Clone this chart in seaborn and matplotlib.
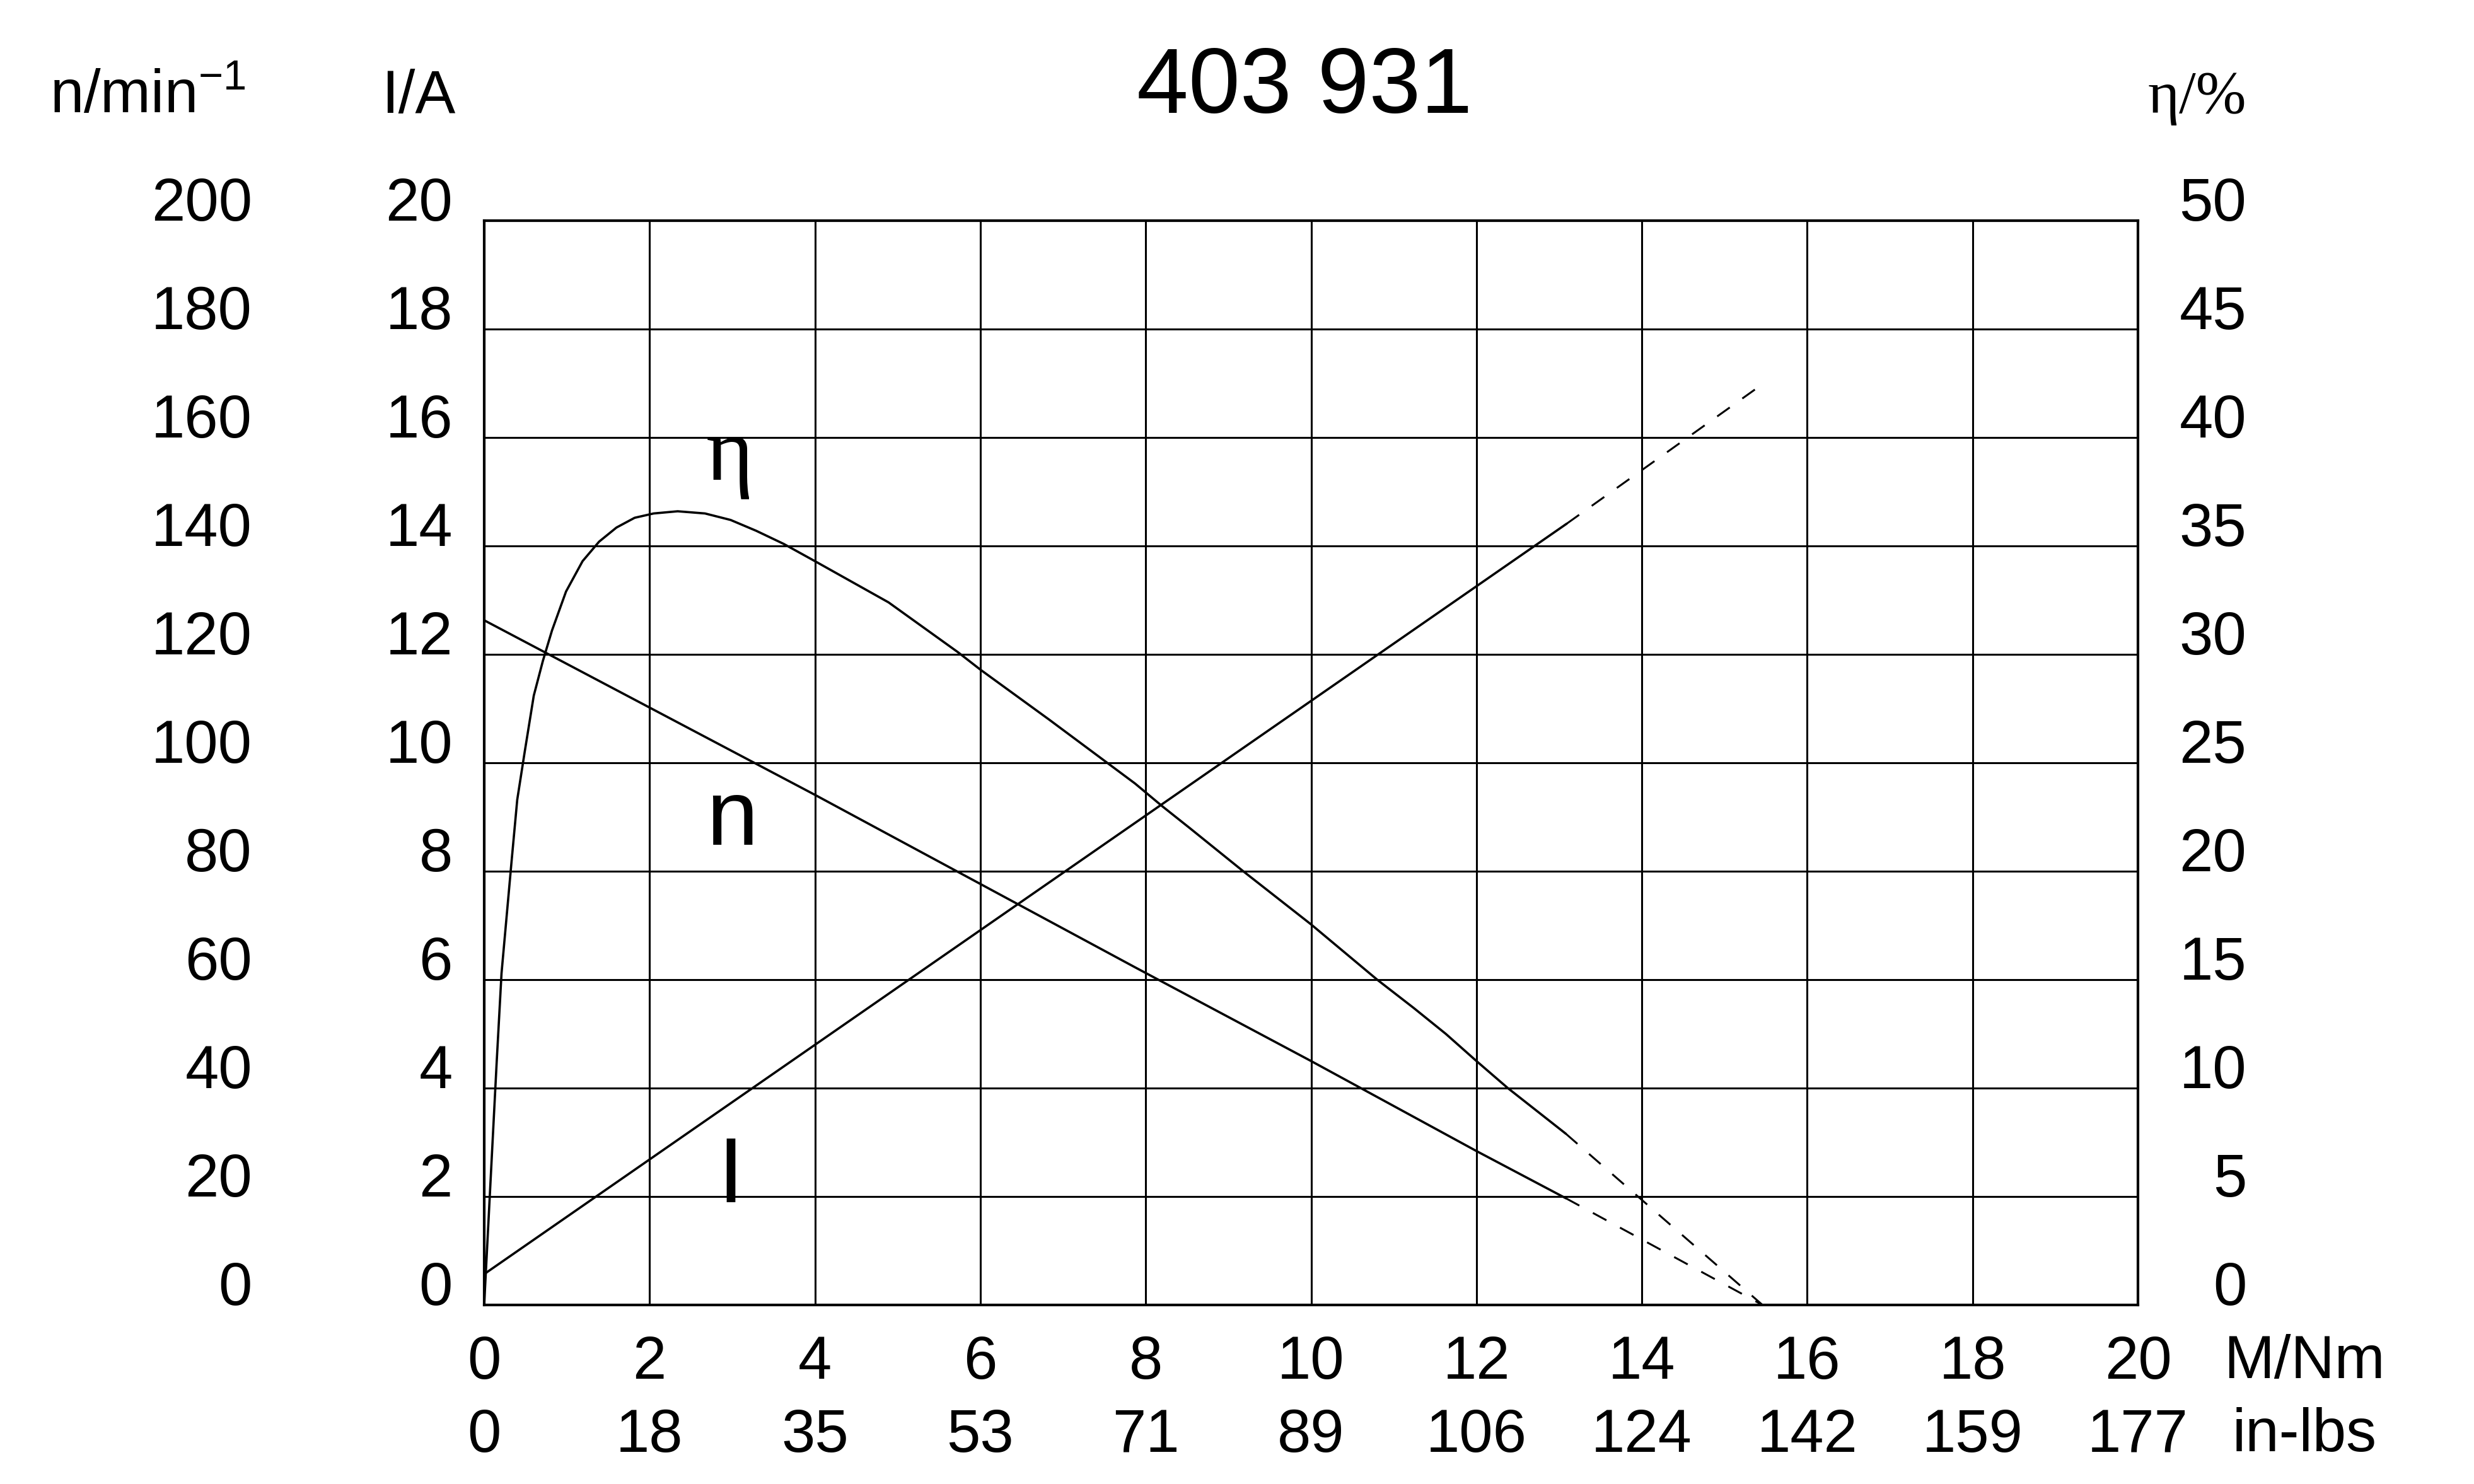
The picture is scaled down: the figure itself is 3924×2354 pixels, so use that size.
import matplotlib
matplotlib.use("Agg")
import matplotlib.pyplot as plt
import seaborn as sns

# Achsen / Skalen
torque_ticks = [0, 2, 4, 6, 8, 10, 12, 14, 16, 18, 20]
inlbs_labels = ["0", "18", "35", "53", "71", "89", "106", "124", "142", "159", "177"]
current_ticks = [0, 2, 4, 6, 8, 10, 12, 14, 16, 18, 20]
speed_ticks = [0, 20, 40, 60, 80, 100, 120, 140, 160, 180, 200]
eff_ticks = [0, 5, 10, 15, 20, 25, 30, 35, 40, 45, 50]

# Strom I (A)
i_m = [0.0, 13.09]
i_amp = [0.57, 14.41]
i_ext_m = [13.09, 15.50]
i_ext_amp = [14.41, 17.03]

# Drehzahl n (1/min)
n_m = [0.0, 4.0, 7.87, 10.0, 12.0, 13.08]
n_rpm = [126.3, 94.1, 62.3, 45.0, 28.4, 19.7]
n_ext_m = [13.08, 15.46]
n_ext_rpm = [19.7, 0.0]

# Wirkungsgrad eta (%)
eta_m = [0.0, 0.15, 0.21, 0.33, 0.40, 0.49, 0.60, 0.71, 0.82, 0.99, 1.19, 1.39,
         1.60, 1.82, 2.05, 2.34, 2.67, 2.98, 3.29, 3.62, 4.0, 4.89, 5.73, 6.0,
         6.83, 7.87, 8.20, 8.53, 9.18, 10.0, 10.80, 11.24, 11.63, 12.0, 12.38,
         13.08]
eta_pct = [0.0, 11.1, 15.3, 20.4, 23.3, 25.5, 28.1, 29.7, 31.1, 32.9, 34.3, 35.2,
           35.85, 36.3, 36.5, 36.6, 36.5, 36.2, 35.7, 35.1, 34.3, 32.4, 30.1, 29.3,
           27.0, 24.05, 23.0, 22.0, 20.0, 17.55, 15.0, 13.7, 12.5, 11.25, 10.0,
           7.9]
eta_ext_m = [13.08, 15.46]
eta_ext_pct = [7.9, 0.0]

sns.set_style("white")
plt.rcParams["font.family"] = ["Liberation Sans", "DejaVu Sans"]
plt.rcParams["mathtext.fontset"] = "custom"
plt.rcParams["mathtext.rm"] = "Liberation Sans"
plt.rcParams["mathtext.it"] = "Liberation Sans:italic"
plt.rcParams["text.color"] = "black"
plt.rcParams["xtick.color"] = "black"
plt.rcParams["ytick.color"] = "black"

FS = 34.5
LW = 1.3
DASH = (0, (8, 8))

fig = plt.figure(figsize=(19.62, 11.77), dpi=200)
ax = fig.add_axes([0.1957, 0.1206, 0.6685, 0.7307])

# Stromkennlinie (Hauptachse = I)
sns.lineplot(x=i_m, y=i_amp, ax=ax, color="black", linewidth=LW)
sns.lineplot(x=i_ext_m, y=i_ext_amp, ax=ax, color="black", linewidth=1.1, linestyle=DASH)

ax.set_xlim(0, 20)
ax.set_ylim(0, 20)
ax.set_xticks(torque_ticks, labels=[str(t) for t in torque_ticks], fontsize=FS)
ax.set_yticks(current_ticks, labels=[str(t) for t in current_ticks], fontsize=FS, va="baseline")
ax.tick_params(axis="x", length=0, pad=17)
ax.tick_params(axis="y", length=0, pad=18)
ax.grid(True, color="black", linewidth=1.1)
ax.set_axisbelow(True)
for s in ax.spines.values():
    s.set_visible(True)
    s.set_color("black")
    s.set_linewidth(1.5)
ax.set_xlabel("")
ax.set_ylabel("")

# Drehzahl (linke, aeussere Skala)
ax_n = ax.twinx()
sns.lineplot(x=n_m, y=n_rpm, ax=ax_n, color="black", linewidth=LW)
sns.lineplot(x=n_ext_m, y=n_ext_rpm, ax=ax_n, color="black", linewidth=1.1, linestyle=DASH)
ax_n.set_ylim(0, 200)
ax_n.yaxis.tick_left()
ax_n.spines["left"].set_position(("axes", -0.1403))
for s in ax_n.spines.values():
    s.set_visible(False)
ax_n.set_yticks(speed_ticks, labels=[str(t) for t in speed_ticks], fontsize=FS, va="baseline")
ax_n.tick_params(axis="y", length=0, pad=0)
ax_n.set_ylabel("")

# Wirkungsgrad (rechte Skala)
ax_e = ax.twinx()
sns.lineplot(x=eta_m, y=eta_pct, ax=ax_e, color="black", linewidth=LW)
sns.lineplot(x=eta_ext_m, y=eta_ext_pct, ax=ax_e, color="black", linewidth=1.1, linestyle=DASH)
ax_e.set_ylim(0, 50)
for s in ax_e.spines.values():
    s.set_visible(False)
ax_e.set_yticks(eff_ticks, labels=[str(t) for t in eff_ticks], fontsize=FS,
                ha="right", va="baseline")
ax_e.tick_params(axis="y", length=0, pad=62)
ax_e.set_ylabel("")
ax_e.set_xlim(0, 20)

# zweite x-Skala in-lbs
ax_in = ax.secondary_xaxis("bottom")
ax_in.set_xticks(torque_ticks, labels=inlbs_labels, fontsize=FS)
ax_in.tick_params(axis="x", length=0, pad=58.7)
ax_in.spines["bottom"].set_visible(False)

# Beschriftungen
tr = ax.transAxes
ax.text(0.496, 1.0994, "403 931", transform=tr, ha="center", va="baseline", fontsize=53)
ax.text(-0.1441, 1.0994, "n/min$^{-1}$", transform=tr, ha="right", va="baseline", fontsize=FS)
ax.text(-0.0175, 1.0994, "I/A", transform=tr, ha="right", va="baseline", fontsize=FS)
ax.text(1.0656, 1.0994, "η/%", transform=tr, ha="right", va="baseline", fontsize=FS,
        family=["Liberation Serif", "DejaVu Serif"])
ax.text(1.1006, -0.0674, "M/Nm", transform=tr, ha="center", va="baseline", fontsize=FS)
ax.text(1.1006, -0.1349, "in-lbs", transform=tr, ha="center", va="baseline", fontsize=FS)

# Kurvenbezeichnungen
ax.text(2.97, 15.22, "η", ha="center", va="baseline", fontsize=52,
        family=["Liberation Serif", "DejaVu Serif"])
ax.text(3.0, 8.49, "n", ha="center", va="baseline", fontsize=53)
ax.text(2.98, 1.9, "I", ha="center", va="baseline", fontsize=53)

fig.savefig("out.png", dpi=200)
